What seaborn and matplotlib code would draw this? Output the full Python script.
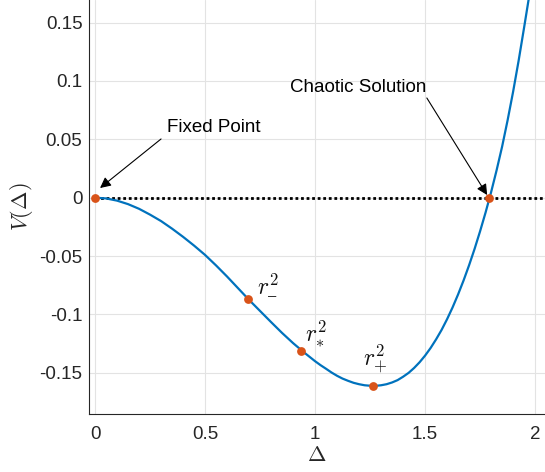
import numpy as np
import pandas as pd
import matplotlib
matplotlib.use("Agg")
import matplotlib.pyplot as plt
import seaborn as sns

# ---- data ----
delta = [0.00, 0.05, 0.10, 0.15, 0.20, 0.25, 0.30, 0.35, 0.40, 0.45, 0.50,
         0.55, 0.60, 0.65, 0.70, 0.75, 0.80, 0.85, 0.90, 0.95, 1.00,
         1.025, 1.05, 1.075, 1.10, 1.125, 1.15, 1.175, 1.20, 1.225, 1.25,
         1.275, 1.30, 1.325, 1.35, 1.375, 1.40, 1.425, 1.45, 1.475, 1.50,
         1.525, 1.55, 1.575, 1.60, 1.625, 1.65, 1.675, 1.70, 1.725, 1.75,
         1.775, 1.80, 1.825, 1.85, 1.875, 1.90, 1.925, 1.95, 1.975, 2.00,
         2.025, 2.05]
V = [0.0000, -0.0006, -0.0025, -0.0055, -0.0095, -0.0145, -0.0200, -0.0265, -0.0335, -0.0410, -0.0490,
     -0.0580, -0.0675, -0.0775, -0.0875, -0.0970, -0.1065, -0.1158, -0.1245, -0.1325, -0.1400,
     -0.1434, -0.1465, -0.1497, -0.1525, -0.1549, -0.1568, -0.1585, -0.1597, -0.1606, -0.1610,
     -0.1611, -0.1606, -0.1597, -0.1582, -0.1562, -0.1533, -0.1500, -0.1458, -0.1409, -0.1352,
     -0.1287, -0.1213, -0.1132, -0.1040, -0.0939, -0.0828, -0.0708, -0.0578, -0.0438, -0.0287,
     -0.0126, 0.0047, 0.0235, 0.0437, 0.0663, 0.0907, 0.1172, 0.1457, 0.1749, 0.2057,
     0.2379, 0.2717]

zero_x = [0.0, 2.2]
zero_y = [0.0, 0.0]

pts_x = [0.0, 0.694, 0.935, 1.265, 1.792]
pts_y = [0.0, -0.0867, -0.131, -0.161, 0.0]

xticks = [0, 0.5, 1, 1.5, 2]
xticklabels = ["0", "0.5", "1", "1.5", "2"]
yticks = [-0.15, -0.1, -0.05, 0, 0.05, 0.1, 0.15]
yticklabels = ["-0.15", "-0.1", "-0.05", "0", "0.05", "0.1", "0.15"]

root_labels = ["$r^{2}_{\\mathrm{\u2013}}$", r"$r^{2}_{*}$", r"$r^{2}_{+}$"]
root_label_x = [0.786, 1.002, 1.275]
root_label_y = [-0.0742, -0.117, -0.1377]

# ---- style ----
sns.set_theme(style="whitegrid")
plt.rcParams["font.family"] = ["Liberation Sans", "DejaVu Sans"]
plt.rcParams["mathtext.fontset"] = "cm"

fig = plt.figure(figsize=(5.45, 4.72), dpi=100)
ax = fig.add_axes([0.1639, 0.1229, 0.8361, 0.8771])
ax.set_facecolor("white")

blue = "#0072BD"
orange = "#D95319"

curve = pd.DataFrame({"delta": delta, "V": V})
sns.lineplot(data=curve, x="delta", y="V", ax=ax, color=blue, lw=1.6, zorder=3)
sns.lineplot(x=zero_x, y=zero_y, ax=ax, color="black", lw=2.0,
             linestyle=(0, (1, 1)), zorder=2)
sns.scatterplot(x=pts_x, y=pts_y, ax=ax, color=orange, s=40, edgecolor=orange,
                linewidth=0, zorder=5)

ax.set_xlim(-0.026, 2.045)
ax.set_ylim(-0.1852, 0.1693)

ax.set_xticks(xticks)
ax.set_xticklabels(xticklabels)
ax.set_yticks(yticks)
ax.set_yticklabels(yticklabels)

ax.grid(True, color="#e3e3e3", lw=0.8)
for s in ["top", "right"]:
    ax.spines[s].set_visible(False)
for s in ["left", "bottom"]:
    ax.spines[s].set_visible(True)
    ax.spines[s].set_color("#262626")
    ax.spines[s].set_linewidth(0.8)

ax.tick_params(axis="both", direction="in", length=4, width=0.8, color="#262626",
               labelsize=13.5, labelcolor="#262626")
ax.tick_params(axis="x", pad=9)
ax.tick_params(axis="y", pad=5)

ax.set_xlabel(r"$\Delta$", fontsize=16, labelpad=1, color="#262626")
ax.set_ylabel(r"$V(\Delta)$", fontsize=16, labelpad=3, color="#262626")

# annotations
ax.annotate("", xy=(0.0227, 0.0083), xytext=(0.300, 0.0503),
            arrowprops=dict(arrowstyle="-|>", color="black", lw=0.8,
                            mutation_scale=16, shrinkA=0, shrinkB=0))
ax.text(0.326, 0.060, "Fixed Point", fontsize=13.5, ha="left", va="center",
        color="black")
ax.annotate("", xy=(1.782, 0.0023), xytext=(1.508, 0.0854),
            arrowprops=dict(arrowstyle="-|>", color="black", lw=0.8,
                            mutation_scale=16, shrinkA=0, shrinkB=0))
ax.text(1.505, 0.0948, "Chaotic Solution", fontsize=13.5, ha="right", va="center",
        color="black")

for lab, lx, ly in zip(root_labels, root_label_x, root_label_y):
    ax.text(lx, ly, lab, fontsize=17, ha="center", va="center", color="#111111")

fig.savefig("out.png", dpi=100)
